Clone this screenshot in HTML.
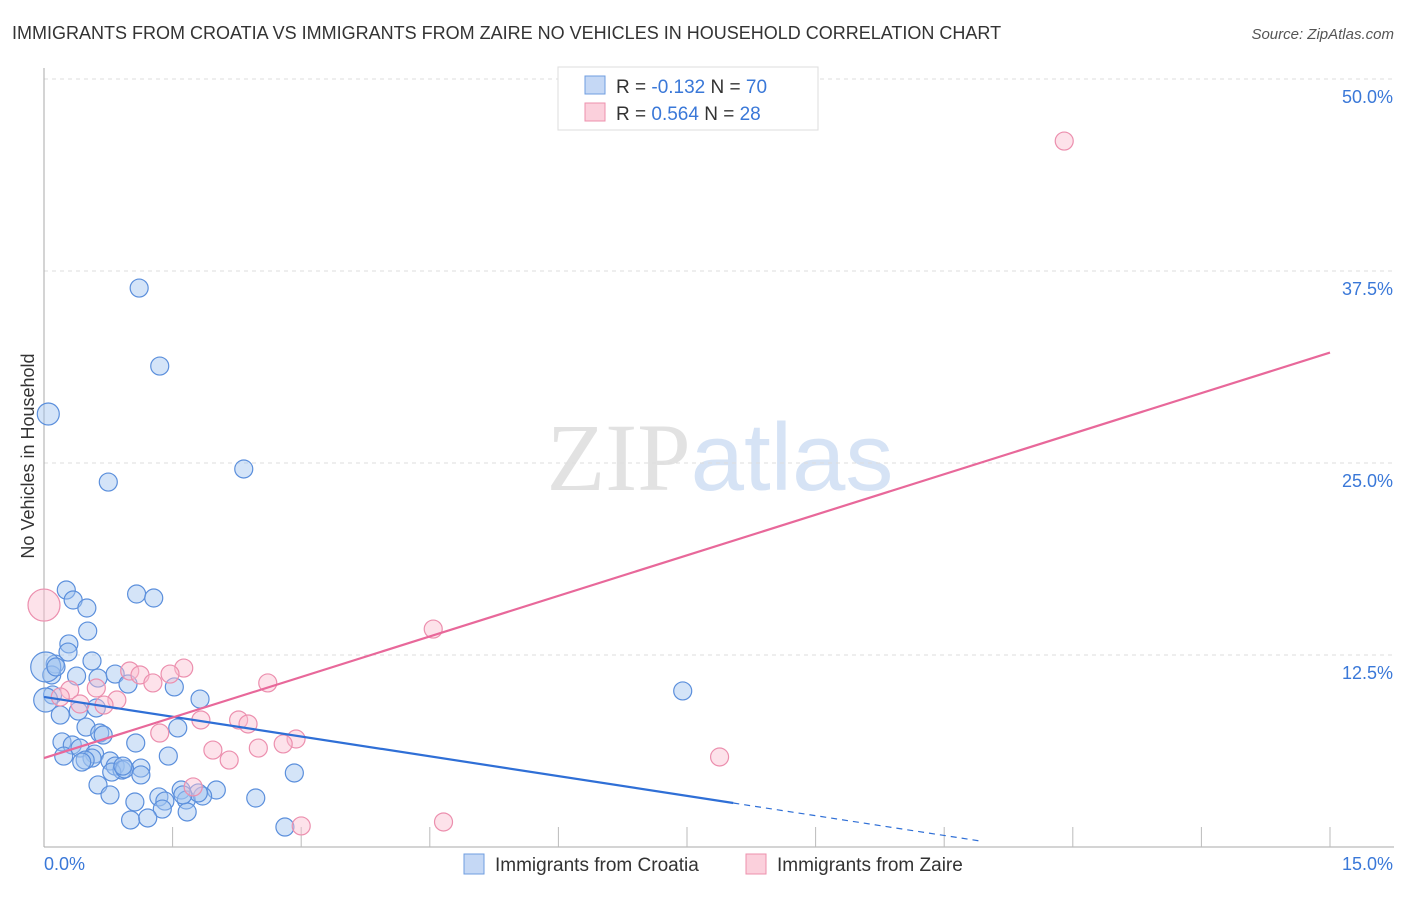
<!DOCTYPE html>
<html><head><meta charset="utf-8"><style>
body{margin:0;background:#fff;font-family:"Liberation Sans",sans-serif;}
svg text{font-family:"Liberation Sans",sans-serif;}
</style></head><body>
<svg id="chart" width="1406" height="892" xmlns="http://www.w3.org/2000/svg">
<text x="12" y="39" font-size="18" fill="#333">IMMIGRANTS FROM CROATIA VS IMMIGRANTS FROM ZAIRE NO VEHICLES IN HOUSEHOLD CORRELATION CHART</text>
<text x="1394" y="39" font-size="15" fill="#555" text-anchor="end" font-style="italic">Source: ZipAtlas.com</text>
<text transform="translate(34,456) rotate(-90)" font-size="18" fill="#333" text-anchor="middle">No Vehicles in Household</text>
<text x="720" y="490" font-size="96" text-anchor="middle"><tspan fill="#e2e2e2" font-family="Liberation Serif">ZIP</tspan><tspan fill="#d6e3f5">atlas</tspan></text>
<g id="grid"></g><g id="axes"></g><g id="pts"></g><g id="lines"></g>
<g>
<rect x="558" y="67" width="260" height="63" fill="#fff" stroke="#ddd"/>
<rect x="585" y="76" width="20" height="18" fill="#c5d8f5" stroke="#6f9ee0"/>
<text x="616" y="93" font-size="19" fill="#333">R = <tspan fill="#3a78d8">-0.132</tspan>   N = <tspan fill="#3a78d8">70</tspan></text>
<rect x="585" y="103" width="20" height="18" fill="#fbd0dc" stroke="#ee90ad"/>
<text x="616" y="120" font-size="19" fill="#333">R =  <tspan fill="#3a78d8">0.564</tspan>   N =  <tspan fill="#3a78d8">28</tspan></text>
</g>
<g>
<rect x="464" y="854" width="20" height="20" fill="#c5d8f5" stroke="#6f9ee0"/>
<text x="495" y="871" font-size="19" fill="#333">Immigrants from Croatia</text>
<rect x="746" y="854" width="20" height="20" fill="#fbd0dc" stroke="#ee90ad"/>
<text x="777" y="871" font-size="19" fill="#333">Immigrants from Zaire</text>
</g>
</svg>
<script>
const yTicks=[12.5,25,37.5,50];
const yTickLabels=["12.5%","25.0%","37.5%","50.0%"];
const xTicks=[1.5,3,4.5,6,7.5,9,10.5,12,13.5,15];
const croatiaX=[1.11,1.35,0.05,2.33,0.75,0.26,0.34,0.50,1.08,1.28,0.51,0.29,0.28,0.56,0.13,0.09,0.38,0.63,0.83,0.98,1.52,1.82,0.10,0.19,0.40,0.61,0.49,0.65,0.69,1.56,1.07,0.21,0.33,0.42,0.23,0.59,0.56,0.48,0.77,0.44,1.45,0.83,0.91,1.13,0.79,0.94,1.13,2.92,0.63,2.01,0.77,1.60,1.66,1.34,1.06,1.41,1.85,1.80,2.47,1.38,1.67,1.01,1.21,2.81,7.45,0.02,0.02,0.14,1.62,0.92];
const croatiaY=[36.39,31.31,28.19,24.61,23.76,16.73,16.08,15.56,16.47,16.21,14.06,13.22,12.69,12.11,11.91,11.20,11.13,11.00,11.26,10.61,10.42,9.63,9.90,8.59,8.85,9.05,7.81,7.42,7.29,7.75,6.77,6.84,6.64,6.44,5.92,6.05,5.79,5.66,5.60,5.53,5.92,5.27,5.01,5.14,4.88,5.08,4.69,4.82,4.04,3.71,3.39,3.71,3.06,3.26,2.93,2.99,3.32,3.52,3.19,2.47,2.28,1.76,1.89,1.30,10.16,11.72,9.57,11.72,3.39,5.27];
const croatiaR=[9,9,11,9,9,9,9,9,9,9,9,9,9,9,9,9,9,9,9,9,9,9,9,9,9,9,9,9,9,9,9,9,9,9,9,9,9,9,9,9,9,9,9,9,9,9,9,9,9,9,9,9,9,9,9,9,9,9,9,9,9,9,9,9,9,15,12,9,9,9];
const zaireX=[11.90,0,4.54,1.63,1.00,1.12,1.27,1.47,2.61,0.61,0.30,0.19,0.85,0.70,1.83,2.27,2.38,1.35,2.94,2.79,2.50,1.97,2.16,7.88,1.74,4.66,3.00,0.42];
const zaireY=[45.96,15.75,14.19,11.65,11.46,11.20,10.68,11.26,10.68,10.35,10.22,9.77,9.57,9.24,8.27,8.27,8.01,7.42,7.03,6.71,6.44,6.31,5.66,5.86,3.91,1.63,1.37,9.31];
const zaireR=[9,16,9,9,9,9,9,9,9,9,9,9,9,9,9,9,9,9,9,9,9,9,9,9,9,9,9,9];
const croatiaTrend=[9.77,-0.859]; // intercept, slope
const zaireTrend=[5.79,1.76];
const NS="http://www.w3.org/2000/svg";
const X=v=>44+v/15*1286, Y=v=>847-v/12.5*192;
function mk(t,a,p){const e=document.createElementNS(NS,t);for(const k in a)e.setAttribute(k,a[k]);p.appendChild(e);return e;}
const grid=document.getElementById('grid'),axes=document.getElementById('axes'),pts=document.getElementById('pts'),lines=document.getElementById('lines');
yTicks.forEach((t,i)=>{
 const l=mk('line',{x1:44,x2:1394,y1:Y(t),y2:Y(t),stroke:'#ddd','stroke-dasharray':'4,4'},grid);
 
 
 const tx=mk('text',{x:1393,y:Y(t)+24,'font-size':18,fill:'#3a78d8','text-anchor':'end'},axes);
 tx.textContent=yTickLabels[i];
 
 
});
const ya=mk('line',{x1:44,x2:44,y1:68,y2:847,stroke:'#aaa'},axes);


const xa=mk('line',{x1:44,x2:1394,y1:847,y2:847,stroke:'#aaa'},axes);


xTicks.forEach(t=>{
 const l=mk('line',{x1:X(t),x2:X(t),y1:827,y2:847,stroke:'#bbb'},axes);
 
 
});
const x0=mk('text',{x:44,y:870,'font-size':18,fill:'#3a78d8'},axes);x0.textContent='0.0%';


const x1=mk('text',{x:1393,y:870,'font-size':18,fill:'#3a78d8','text-anchor':'end'},axes);x1.textContent='15.0%';


croatiaX.forEach((v,i)=>{
 const c=mk('circle',{cx:X(v),cy:Y(croatiaY[i]),r:croatiaR[i],fill:'rgba(160,195,240,0.45)',stroke:'#5b8fdc','stroke-width':1.2},pts);
 
 
});
zaireX.forEach((v,i)=>{
 const c=mk('circle',{cx:X(v),cy:Y(zaireY[i]),r:zaireR[i],fill:'rgba(250,190,208,0.45)',stroke:'#ec8fae','stroke-width':1.2},pts);
 
 
});
const cf=x=>croatiaTrend[0]+croatiaTrend[1]*x, zf=x=>zaireTrend[0]+zaireTrend[1]*x;
const b1=mk('line',{x1:X(0),y1:Y(cf(0)),x2:X(8.04),y2:Y(cf(8.04)),stroke:'#2f6fd6','stroke-width':2.2},lines);


const b2=mk('line',{x1:X(8.04),y1:Y(cf(8.04)),x2:X(10.92),y2:Y(cf(10.92)),stroke:'#2f6fd6','stroke-width':1.2,'stroke-dasharray':'6,5'},lines);


const p1=mk('line',{x1:X(0),y1:Y(zf(0)),x2:X(15),y2:Y(zf(15)),stroke:'#e8689a','stroke-width':2.2},lines);


</script>
</body></html>
